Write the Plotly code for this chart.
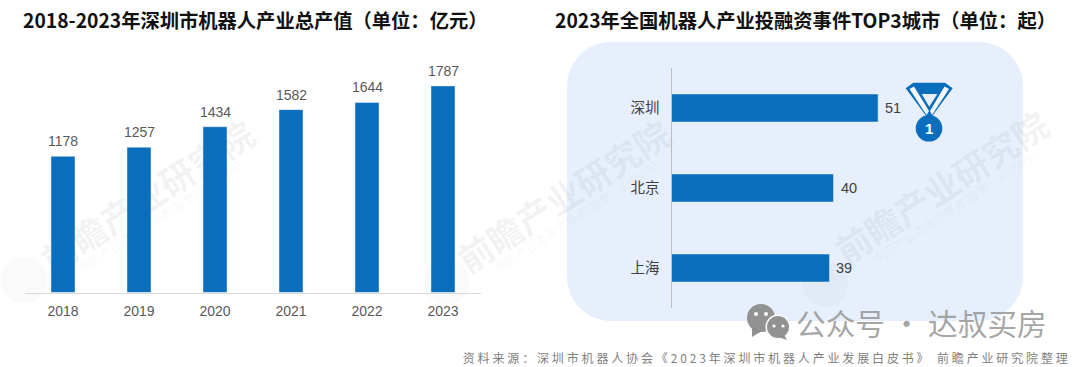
import plotly.graph_objects as go

W, H = 1080, 367
years = ["2018", "2019", "2020", "2021", "2022", "2023"]
output_values = [1178, 1257, 1434, 1582, 1644, 1787]
cities = ["深圳", "北京", "上海"]
event_values = [51, 40, 39]
title_left = "2018-2023年深圳市机器人产业总产值\uff08单位\uff1a亿元\uff09"
title_right = "2023年全国机器人产业投融资事件TOP3城市\uff08单位\uff1a起\uff09"
source_text = "资料来源\uff1a深圳市机器人协会《2023年深圳市机器人产业发展白皮书》 前瞻产业研究院整理"
wechat_text = "公众号 · 达叔买房"
wm_main = "前瞻产业研究院"
wm_sub = "中国产业咨询领导者(股票\uff1a839599)"

BLUE = "#0A6EBD"
PANEL = "#E6EFFB"
CJK = "Noto Sans CJK SC, Noto Sans CJK JP, sans-serif"
LAT = "Liberation Sans, Arial, sans-serif"


def px(x):
    return x / W


def py(y):
    return 1 - y / H


def path(points, close=True):
    s = "M " + " L ".join(f"{px(x):.5f},{py(y):.5f}" for x, y in points)
    return s + (" Z" if close else "")


def rrect(x0, y0, x1, y1, r):
    k = 0.45 * r
    pts = [
        ("M", [(x0 + r, y0)]), ("L", [(x1 - r, y0)]),
        ("C", [(x1 - k, y0), (x1, y0 + k), (x1, y0 + r)]), ("L", [(x1, y1 - r)]),
        ("C", [(x1, y1 - k), (x1 - k, y1), (x1 - r, y1)]), ("L", [(x0 + r, y1)]),
        ("C", [(x0 + k, y1), (x0, y1 - k), (x0, y1 - r)]), ("L", [(x0, y0 + r)]),
        ("C", [(x0, y0 + k), (x0 + k, y0), (x0 + r, y0)]),
    ]
    return " ".join(c + " " + " ".join(f"{px(a):.5f},{py(b):.5f}" for a, b in p) for c, p in pts) + " Z"


def circle(cx, cy, r, color, layer="above"):
    return dict(type="circle", xref="paper", yref="paper", x0=px(cx - r), x1=px(cx + r),
                y0=py(cy + r), y1=py(cy - r), fillcolor=color, line_width=0, layer=layer)


def poly(points, color, layer="above"):
    return dict(type="path", xref="paper", yref="paper", path=path(points), fillcolor=color,
                line_width=0, layer=layer)


def watermark(cx, cy, text, size, color, weight="normal"):
    return dict(type="rect", xref="paper", yref="paper", x0=px(cx - 20), x1=px(cx + 20),
                y0=py(cy + 20), y1=py(cy - 20), line_width=0, fillcolor="rgba(0,0,0,0)", layer="below",
                label=dict(text=text, textangle=-33, textposition="middle center",
                           font=dict(family=CJK, size=size, color=color, weight=weight)))


WM = "rgba(120,125,130,0.09)"
WMS = "rgba(120,125,130,0.07)"

shapes = [
    dict(type="path", xref="paper", yref="paper", path=rrect(567, 42, 1023, 321, 44),
         fillcolor=PANEL, line_width=0, layer="below"),
]
for cx, cy in [(150, 200), (566, 200), (944, 191)]:
    shapes.append(watermark(cx, cy, wm_main, 35, WM, "bold"))
    shapes.append(watermark(cx + 11, cy + 18, wm_sub, 12, WMS))
for cx, cy in [(24, 280), (447, 282), (825, 284)]:
    shapes.append(circle(cx, cy, 23, "rgba(120,125,130,0.04)", "below"))

# medal
shapes += [
    poly([(905.7, 88.3), (913.3, 82.7), (945, 82.7), (952.7, 88.3), (931.7, 116.7), (926.7, 116.7)], BLUE),
    poly([(909.5, 89), (914, 86.5), (929, 111), (926.5, 115)], "#F4F8FD"),
    poly([(949, 89), (944.5, 86.5), (930, 111), (932, 115)], "#F4F8FD"),
    poly([(921.7, 94), (937.3, 94), (929.3, 106.7)], PANEL),
    circle(929, 128.3, 13.3, BLUE),
]

# WeChat icon
shapes += [
    circle(761, 318, 14, "rgba(140,140,140,0.95)"),
    poly([(752, 328), (752, 337), (762, 331)], "rgba(140,140,140,0.95)"),
    circle(778, 327, 12.5, "rgba(255,255,255,1)"),
    circle(778, 327, 11, "rgba(140,140,140,0.95)"),
    poly([(784, 335), (787, 340), (778, 337)], "rgba(140,140,140,0.95)"),
    circle(756, 314, 2, "white"), circle(766, 314, 2, "white"),
    circle(774, 326, 1.6, "white"), circle(783, 326, 1.6, "white"),
]

annotations = [
    dict(text=source_text, x=px(766), y=py(357), xref="paper", yref="paper", xanchor="center", yanchor="middle",
         showarrow=False, font=dict(family=CJK, size=12, color="#7F7F7F")),
    dict(text=title_left, x=px(21), y=py(20), xref="paper", yref="paper", xanchor="left", yanchor="middle",
         showarrow=False, font=dict(family=CJK, size=19.3, color="#111111", weight="bold")),
    dict(text=title_right, x=px(553), y=py(20), xref="paper", yref="paper", xanchor="left", yanchor="middle",
         showarrow=False, font=dict(family=CJK, size=19.3, color="#111111", weight="bold")),
    dict(text=wechat_text, x=px(794), y=py(322), xref="paper", yref="paper", xanchor="left", yanchor="middle",
         showarrow=False, font=dict(family=CJK, size=29.7, color="rgba(150,150,150,0.85)")),
    dict(text="1", x=px(929), y=py(128.5), xref="paper", yref="paper", xanchor="center", yanchor="middle",
         showarrow=False, font=dict(family=LAT, size=15, color="white", weight="bold")),
]
for i, v in enumerate(output_values):
    annotations.append(dict(text=str(v), x=i, y=v, xref="x", yref="y", yanchor="bottom", yshift=5,
                            showarrow=False, font=dict(family=LAT, size=14, color="#595959")))
for c, v in zip(cities, event_values):
    annotations.append(dict(text=str(v), x=v, y=c, xref="x2", yref="y2", xanchor="left", xshift=5,
                            showarrow=False, font=dict(family=LAT, size=14.5, color="#404040")))

fig = go.Figure()
fig.add_trace(go.Bar(x=years, y=output_values, marker_color=BLUE, xaxis="x", yaxis="y", hoverinfo="x+y"))
fig.add_trace(go.Bar(x=event_values, y=cities, orientation="h", marker_color=BLUE, xaxis="x2", yaxis="y2",
                     width=0.35, hoverinfo="x+y"))

fig.update_layout(
    width=W, height=H, autosize=False, margin=dict(l=0, r=0, t=0, b=0),
    paper_bgcolor="white", plot_bgcolor="rgba(0,0,0,0)", showlegend=False, bargap=0.684,
    shapes=shapes, annotations=annotations,
    xaxis=dict(domain=[px(25), px(481)], anchor="y", type="category", range=[-0.5, 5.5], showgrid=False,
               zeroline=False, showline=True, linecolor="#D9D9D9", linewidth=1, ticks="", ticklabelstandoff=6,
               tickfont=dict(family=LAT, size=14, color="#595959")),
    yaxis=dict(domain=[py(292.5), py(50)], anchor="x", range=[0, 2098], visible=False),
    xaxis2=dict(domain=[px(671.5), px(1000)], anchor="y2", range=[0, 81.1], visible=False),
    yaxis2=dict(domain=[py(308), py(68)], anchor="x2", type="category", range=[2.5, -0.5], showgrid=False,
                zeroline=False, showline=True, linecolor="#BFBFBF", linewidth=1, ticks="", ticklabelstandoff=8,
                tickfont=dict(family=CJK, size=14.5, color="#404040")),
)

post = """
var st=document.createElement('style');
st.textContent='html,body{margin:0;padding:0;overflow:hidden;background:#fff}'+
 '.annotation[data-index="0"] text{letter-spacing:2.85px}';
document.head.appendChild(st);
"""
fig.write_html("out.html", post_script=post, config={"displayModeBar": False})
